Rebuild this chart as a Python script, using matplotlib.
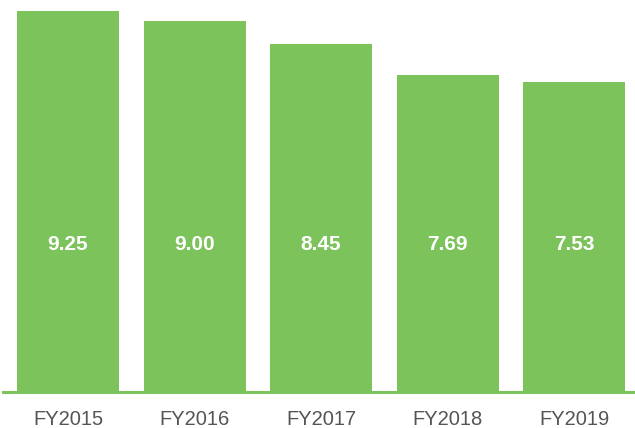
import matplotlib
matplotlib.use("Agg")
import matplotlib.pyplot as plt

categories = ["FY2015", "FY2016", "FY2017", "FY2018", "FY2019"]
values = [9.25, 9.00, 8.45, 7.69, 7.53]
labels = ["9.25", "9.00", "8.45", "7.69", "7.53"]

green = "#7CC35B"
plt.rcParams['font.family'] = ['Liberation Sans', 'DejaVu Sans']

W, H = 635, 428
fig = plt.figure(figsize=(W / 100, H / 100), dpi=100)
ax = fig.add_axes([3 / W, (H - 392) / H, 632 / W, 392 / H])

x = list(range(len(categories)))
ax.bar(x, values, width=0.806, color=green, zorder=2)
ax.set_xlim(-0.514, 4.482)
ax.set_ylim(0, 9.25 * 392 / 381)

for xi, lab in zip(x, labels):
    ax.text(xi, 0.375, lab, transform=ax.get_xaxis_transform(), ha="center", va="center",
            color="white", fontsize=15, fontweight="bold", zorder=3)

for s in ["top", "right", "left"]:
    ax.spines[s].set_visible(False)
ax.spines["bottom"].set_color(green)
ax.spines["bottom"].set_linewidth(2.2)
ax.spines["bottom"].set_zorder(4)
ax.set_yticks([])
ax.set_xticks(x)
ax.set_xticklabels(categories, fontsize=14.5, color="#555555")
ax.tick_params(axis="x", length=0, pad=13)

fig.savefig("out.png", dpi=100)
